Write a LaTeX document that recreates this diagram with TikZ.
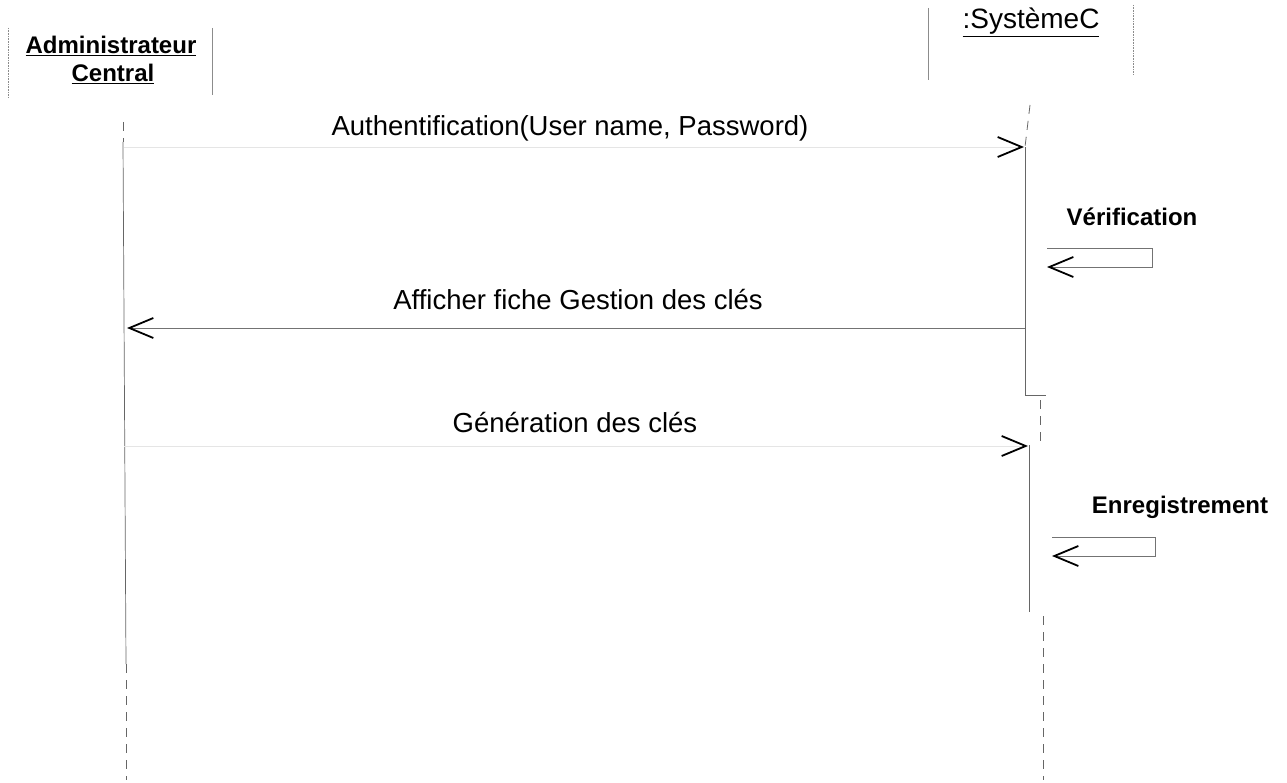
\documentclass[tikz,border=0pt]{standalone}
\usepackage{fontspec}
\setmainfont{Liberation Sans}
\usetikzlibrary{arrows.meta}
\tikzset{
  msgtext/.style={font=\fontsize{27.5}{30}\selectfont, inner sep=0pt, anchor=base},
  selftext/.style={font=\bfseries\fontsize{24}{26}\selectfont, inner sep=0pt, anchor=base},
  objtext/.style={font=\bfseries\fontsize{24}{26}\selectfont, inner sep=0pt, anchor=base},
  boxside/.style={draw=black!45, line width=0.6pt},
  lifeline/.style={draw=black!60, line width=0.8pt, dash pattern=on 9pt off 7pt},
  actline/.style={draw=black!60, line width=0.7pt},
  tip/.style={-{Straight Barb[length=24pt,width=20pt,line width=1.8pt,color=black]}},
  callline/.style={draw=black!55, line width=0.7pt, tip},
  faintcall/.style={draw=black!10, line width=0.6pt, tip},
}
\begin{document}
\begin{tikzpicture}[x=1pt,y=-1pt]
\useasboundingbox (0,0) rectangle (1287,783);
% object boxes
\draw[boxside, densely dotted] (8,28) -- (8,98);
\draw[boxside] (212,28) -- (212,95);
\node[objtext] (admin1) at (111,54) {\underline{Administrateur}};
\node[objtext] (admin2) at (113,82) {\underline{Central}};
\draw[boxside] (928,8) -- (928,80);
\draw[boxside, densely dotted] (1133,5) -- (1133,75);
\node[objtext, font=\fontsize{28}{30}\selectfont] (sys) at (1031,29) {\underline{:SystèmeC}};
% lifeline coordinates
\coordinate (La) at (123,122);
\coordinate (Lb) at (123,142);
\coordinate (Lc) at (126,664);
\coordinate (Ld) at (126,780);
\coordinate (Ra) at (1030,105);
\coordinate (Rb) at (1025,147);
\coordinate (Rc) at (1025,395);
\coordinate (Rd) at (1046,395);
\coordinate (Re) at (1040,400);
\coordinate (Rf) at (1040,442);
\coordinate (Rg) at (1029,445);
\coordinate (Rh) at (1029,612);
\coordinate (Ri) at (1043,616);
\coordinate (Rj) at (1043,780);
% left lifeline
\draw[lifeline] (La) -- (Lb);
\draw[actline] (Lb) -- (Lc);
\draw[lifeline] (Lc) -- (Ld);
% right lifeline
\draw[lifeline] (Ra) -- (Rb);
\draw[actline] (Rb) -- (Rc) -- (Rd);
\draw[lifeline] (Re) -- (Rf);
\draw[actline] (Rg) -- (Rh);
\draw[lifeline] (Ri) -- (Rj);
% message 1
\coordinate (m1s) at (124,147);
\coordinate (m1e) at (1024,147);
\draw[faintcall] (m1s) -- (m1e);
\node[msgtext] (m1) at (570,136) {Authentification(User name, Password)};
% self message Verification
\coordinate (v1) at (1047,248);
\coordinate (v2) at (1152,248);
\coordinate (v3) at (1152,267);
\coordinate (v4) at (1047,267);
\node[selftext] (ver) at (1132,226) {Vérification};
\draw[callline] (v1) -- (v2) -- (v3) -- (v4);
% message 2 (return)
\coordinate (m2s) at (1025,328);
\coordinate (m2e) at (127,328);
\draw[callline] (m2s) -- (m2e);
\node[msgtext] (m2) at (578,310) {Afficher fiche Gestion des clés};
% message 3
\coordinate (m3s) at (124,446);
\coordinate (m3e) at (1028,446);
\draw[faintcall] (m3s) -- (m3e);
\node[msgtext] (m3) at (575,432) {Génération des clés};
% self message Enregistrement
\coordinate (e1) at (1052,537);
\coordinate (e2) at (1155,537);
\coordinate (e3) at (1155,556);
\coordinate (e4) at (1052,556);
\node[selftext] (enr) at (1180,513) {Enregistrement};
\draw[callline] (e1) -- (e2) -- (e3) -- (e4);
\end{tikzpicture}
\end{document}
